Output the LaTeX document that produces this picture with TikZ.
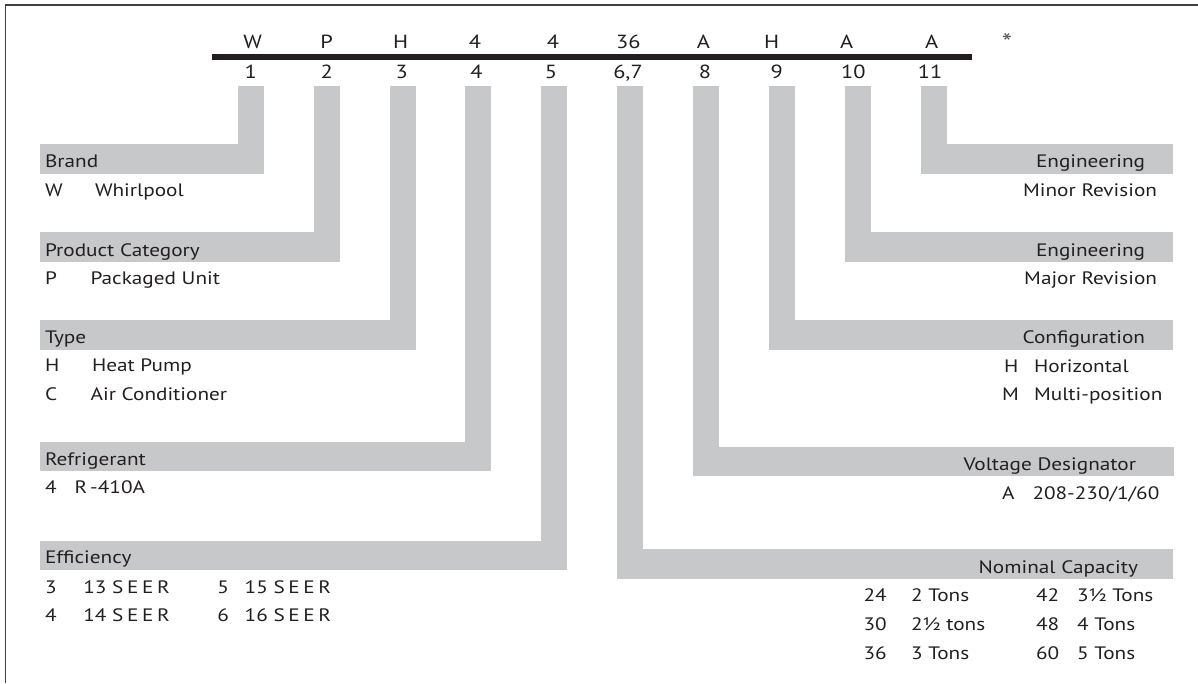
\documentclass[tikz,border=0pt]{standalone}
\usepackage{fontspec}
\setmainfont{PT Sans}[FakeStretch=1.18]
\usepackage{tikz}
\usetikzlibrary{positioning,calc}
\definecolor{bargray}{RGB}{199,200,202}
\definecolor{inkdark}{RGB}{35,31,32}
\newcommand\spaced[1]{{\addfontfeature{LetterSpace=20}#1}}

\begin{document}
\begin{tikzpicture}[
      x=1pt, y=-1pt,
      every node/.style={inner sep=0pt, outer sep=0pt, text=inkdark,
        font=\fontsize{18}{21}\selectfont},
      digit/.style={anchor=base, font=\fontsize{19}{22}\selectfont},
      catbar/.style={fill=bargray, minimum height=29.5pt, anchor=north west},
      catbarr/.style={fill=bargray, minimum height=29.5pt, anchor=north east},
      lbl/.style={anchor=base west},
      lblr/.style={anchor=base east},
      frameline/.style={line width=1.6pt, black!75},
  ]
      \useasboundingbox (0,0) rectangle (1198,683);

      % Moldura
      \draw[frameline] (5.5,683) -- (5.5,5) -- (1198,5);

      % Codigo do modelo
      \foreach \lt/\x [count=\i] in {W/252.7,P/326.7,H/400.7,4/475,4/553,36/628.3,
          A/703.3,H/771.7,A/846.7,A/931.7}
          \node[digit] (c\i) at (\x,48.3) {\lt};
      \node[digit, font=\fontsize{25}{28}\selectfont, text=black!65] (star) at (1007,51) {*};
      \draw[line width=5.7pt, inkdark] (212.3,57.2) -- (972,57.2);
      \foreach \nm/\x [count=\i] in {1/250.7,2/326.7,3/401.7,4/476.5,5/551,{6,7}/628,
          8/705,9/776.7,10/853.3,11/930}
          \node[digit] (n\i) at (\x,78.3) {\nm};
      \coordinate (stemtop) at (0,86);

      % Barras da esquerda
      \node[catbar, minimum width=224pt] (brand) at (40,144) {};
      \node[catbar, minimum width=300pt] (prodcat) at (40,232) {};
      \node[catbar, minimum width=376pt] (type) at (40,320) {};
      \node[catbar, minimum width=451pt] (refrig) at (40,441.7) {};
      \node[catbar, minimum width=527pt] (effic) at (40,540.5) {};
      \foreach \c in {brand,prodcat,type,refrig,effic}
          \fill[bargray] ($(\c.south east)+(-26,0)$) rectangle (\c.east |- stemtop);

      % Barras da direita
      \node[catbarr, minimum width=252pt] (minor) at (1173,144) {};
      \node[catbarr, minimum width=328pt] (major) at (1173,232) {};
      \node[catbarr, minimum width=404pt] (config) at (1173,320) {};
      \node[catbarr, minimum width=481pt] (volt) at (1174,446.7) {};
      \node[catbarr, minimum width=556pt] (nomcap) at (1173,549.3) {};
      \foreach \c in {minor,major,config,volt,nomcap}
          \fill[bargray] (\c.south west) rectangle ($(\c.west |- stemtop)+(26,0)$);

      % Titulos
      \node[lbl] (brandt) at (45,167) {Brand};
      \node[lbl] (prodcatt) at (45,256) {Product Category};
      \node[lbl] (typet) at (45,343.5) {Type};
      \node[lbl] (refrigt) at (45,465) {Refrigerant};
      \node[lbl] (effict) at (45,563.5) {Efficiency};
      \node[lblr] (minort) at (1145,167) {Engineering};
      \node[lblr] (majort) at (1145,256) {Engineering};
      \node[lblr] (configt) at (1145,343.5) {Configuration};
      \node[lblr] (voltt) at (1136,470.5) {Voltage Designator};
      \node[lblr] (nomcapt) at (1138,573) {Nominal Capacity};

      % Opcoes da esquerda
      \node[lbl] (bw) at (45,196) {W};
      \node[lbl] (bwd) at (95,196) {Whirlpool};
      \node[lbl] (pp) at (45,284.3) {P};
      \node[lbl] (ppd) at (90.5,284.3) {Packaged Unit};
      \node[lbl] (th) at (45,371.7) {H};
      \node[lbl] (thd) at (92,371.7) {Heat Pump};
      \node[lbl] (tc) at (45,400) {C};
      \node[lbl] (tcd) at (90.7,400) {Air Conditioner};
      \node[lbl] (r4) at (45,493.3) {4};
      \node[lbl] (r4d) at (74.6,493.3) {R\,-410A};
      \node[lbl] (e3) at (45,593.3) {3};
      \node[lbl] (e3d) at (83.4,593.3) {13 \spaced{SEER}};
      \node[lbl] (e5) at (217.4,593.3) {5};
      \node[lblr] (e5d) at (331,593.3) {15 \spaced{SEER}};
      \node[lbl] (e4) at (45,621.7) {4};
      \node[lbl] (e4d) at (83.4,621.7) {14 \spaced{SEER}};
      \node[lbl] (e6) at (217.4,621.7) {6};
      \node[lblr] (e6d) at (331,621.7) {16 \spaced{SEER}};

      % Opcoes da direita
      \node[lblr] (minord) at (1157,196) {Minor Revision};
      \node[lblr] (majord) at (1157,284.5) {Major Revision};
      \node[lbl] (ch) at (1004,372) {H};
      \node[lbl] (chd) at (1034,372) {Horizontal};
      \node[lbl] (cm) at (1002,400.5) {M};
      \node[lbl] (cmd) at (1034,400.5) {Multi-position};
      \node[lbl] (va) at (1002,499) {A};
      \node[lbl] (vad) at (1032.5,499) {208-230/1/60};
      \foreach \cd/\ds/\y [count=\i] in {24/2 Tons/601.7,30/2½ tons/630.3,36/3 Tons/659}
      {
          \node[lbl] (ka\i) at (863.5,\y) {\cd};
          \node[lbl] (kad\i) at (911,\y) {\ds};
      }
      \foreach \cd/\ds/\y [count=\i] in {42/3½ Tons/601.7,48/4 Tons/630.3,60/5 Tons/659}
      {
          \node[lbl] (kb\i) at (1036,\y) {\cd};
          \node[lbl] (kbd\i) at (1077,\y) {\ds};
      }

  \end{tikzpicture}
\end{document}
